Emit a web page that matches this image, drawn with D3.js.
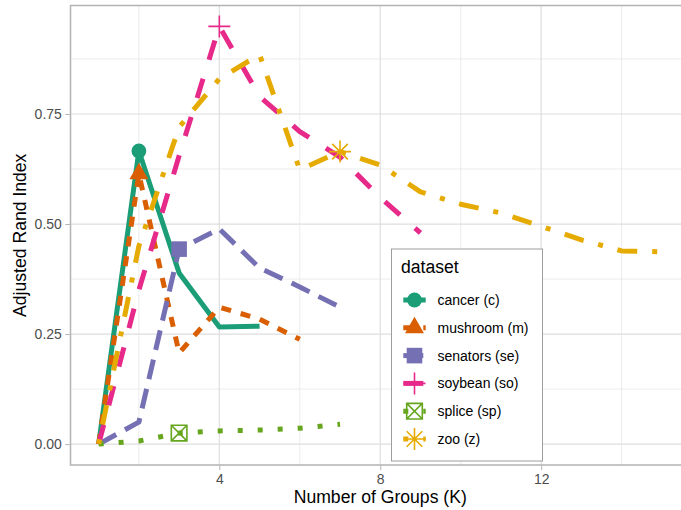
<!DOCTYPE html>
<html><head><meta charset="utf-8">
<script src="https://cdn.jsdelivr.net/npm/d3@7"></script>
<style>
body{margin:0;background:#fff}
text{font-family:"Liberation Sans",Arial,Helvetica,sans-serif}
</style>
</head><body>
<svg id="chart" width="681" height="510"></svg>
<script>
// ---- data ----
const seriesNames = ["cancer (c)", "mushroom (m)", "senators (se)", "soybean (so)", "splice (sp)", "zoo (z)"];
const seriesColors = ["#1B9E77", "#D95F02", "#7570B3", "#E7298A", "#66A61E", "#E6AB02"];
const seriesDash = [null, "10,10", "20,10", "20,20", "5,15", "5,15,20,15"];
const seriesShape = ["circle", "triangle", "square", "plus", "boxtimes", "asterisk"];
const bestK = [2, 2, 3, 4, 3, 7];
// ARI values for K = 1, 2, 3, ...
const cancer   = [0, 0.666, 0.389, 0.266, 0.268];
const mushroom = [0, 0.614, 0.207, 0.311, 0.284, 0.238];
const senators = [0, 0.05, 0.443, 0.489, 0.40, 0.357, 0.311];
const soybean  = [0, 0.35, 0.655, 0.949, 0.79, 0.71, 0.652, 0.56, 0.48];
const splice   = [0, 0.007, 0.025, 0.03, 0.032, 0.036, 0.045];
const zoo      = [0, 0.45, 0.72, 0.83, 0.885, 0.623, 0.6645, 0.634, 0.573, 0.545, 0.525, 0.495, 0.464, 0.439, 0.437];
const seriesValues = [cancer, mushroom, senators, soybean, splice, zoo];
const xTicks = [4, 8, 12];
const xMinor = [2, 6, 10, 14];
const yTicks = [0, 0.25, 0.5, 0.75];
const yTickLabels = ["0.00", "0.25", "0.50", "0.75"];
const yMinor = [0.125, 0.375, 0.625, 0.875];
const xTitle = "Number of Groups (K)";
const yTitle = "Adjusted Rand Index";
const legendTitle = "dataset";

// ---- build table ----
const series = seriesNames.map((name, i) => ({
  name, color: seriesColors[i], dash: seriesDash[i], shape: seriesShape[i], best: bestK[i],
  pts: seriesValues[i].map((v, j) => ({k: j + 1, v}))
}));

const svg = d3.select("#chart");
const P = {left: 70.5, right: 690, top: 5.5, bottom: 465};

const allK = series.flatMap(s => s.pts.map(p => p.k));
const allV = series.flatMap(s => s.pts.map(p => p.v));
const kExt = d3.extent(allK), vExt = d3.extent(allV);
const kPad = (kExt[1] - kExt[0]) * 0.05, vPad = (vExt[1] - vExt[0]) * 0.05;
const x = d3.scaleLinear().domain([kExt[0] - kPad, kExt[1] + kPad]).range([P.left, P.right]);
const y = d3.scaleLinear().domain([vExt[0] - vPad, vExt[1] + vPad]).range([P.bottom, P.top]);

// grid
const grid = svg.append("g");
grid.selectAll(".xm").data(xMinor).join("line")
  .attr("x1", d => x(d)).attr("x2", d => x(d)).attr("y1", P.top).attr("y2", P.bottom)
  .attr("stroke", "#E4E4E4").attr("stroke-width", 0.7);
grid.selectAll(".ym").data(yMinor).join("line")
  .attr("y1", d => y(d)).attr("y2", d => y(d)).attr("x1", P.left).attr("x2", P.right)
  .attr("stroke", "#E4E4E4").attr("stroke-width", 0.7);
grid.selectAll(".xM").data(xTicks).join("line")
  .attr("x1", d => x(d)).attr("x2", d => x(d)).attr("y1", P.top).attr("y2", P.bottom)
  .attr("stroke", "#DEDEDE").attr("stroke-width", 1.2);
grid.selectAll(".yM").data(yTicks).join("line")
  .attr("y1", d => y(d)).attr("y2", d => y(d)).attr("x1", P.left).attr("x2", P.right)
  .attr("stroke", "#DEDEDE").attr("stroke-width", 1.2);

// lines
const line = d3.line().x(d => x(d.k)).y(d => y(d.v));
svg.append("g").selectAll("path").data(series).join("path")
  .attr("d", s => line(s.pts))
  .attr("fill", "none")
  .attr("stroke", s => s.color)
  .attr("stroke-width", 5)
  .attr("stroke-linejoin", "round")
  .attr("stroke-linecap", "butt")
  .attr("stroke-dasharray", s => s.dash);

// markers
function drawMarker(g, shape, color) {
  const R = 7.8;
  if (shape === "circle") {
    g.append("circle").attr("r", 7.4).attr("fill", color);
  } else if (shape === "triangle") {
    g.append("path").attr("d", "M0,-11L9.5,5.5L-9.5,5.5Z").attr("fill", color);
  } else if (shape === "square") {
    g.append("rect").attr("x", -R).attr("y", -R).attr("width", 2 * R).attr("height", 2 * R).attr("fill", color);
  } else if (shape === "plus") {
    const a = 11;
    g.append("path").attr("d", `M${-a},0H${a}M0,${-a}V${a}`).attr("stroke", color).attr("stroke-width", 1.6).attr("fill", "none");
  } else if (shape === "boxtimes") {
    g.append("path").attr("d", `M${-R},${-R}H${R}V${R}H${-R}ZM${-R},${-R}L${R},${R}M${R},${-R}L${-R},${R}`)
      .attr("stroke", color).attr("stroke-width", 1.6).attr("fill", "none");
  } else if (shape === "asterisk") {
    const a = 11;
    g.append("path").attr("d", `M${-a},0H${a}M0,${-a}V${a}M${-R},${-R}L${R},${R}M${R},${-R}L${-R},${R}`)
      .attr("stroke", color).attr("stroke-width", 1.6).attr("fill", "none");
  }
}
const ptsG = svg.append("g");
series.forEach(s => {
  const p = s.pts.find(d => d.k === s.best);
  const g = ptsG.append("g").attr("transform", `translate(${x(p.k)},${y(p.v)})`);
  drawMarker(g, s.shape, s.color);
});

// panel border
svg.append("rect").attr("x", P.left).attr("y", P.top)
  .attr("width", P.right - P.left).attr("height", P.bottom - P.top)
  .attr("fill", "none").attr("stroke", "#B3B3B3").attr("stroke-width", 1.5);

// axes
const yAxis = svg.append("g").attr("transform", `translate(${P.left - 0.75},0)`)
  .call(d3.axisLeft(y).tickValues(yTicks).tickFormat((d, i) => yTickLabels[i]).tickSize(4.4).tickPadding(3.5));
const xAxis = svg.append("g").attr("transform", `translate(0,${P.bottom + 0.75})`)
  .call(d3.axisBottom(x).tickValues(xTicks).tickFormat(d3.format("d")).tickSize(4.4).tickPadding(3.5));
[xAxis, yAxis].forEach(a => {
  a.select(".domain").remove();
  a.selectAll(".tick line").attr("stroke", "#B3B3B3").attr("stroke-width", 1);
  a.selectAll(".tick text").attr("fill", "#4D4D4D").style("font-size", "14px")
    .style("font-family", '"Liberation Sans",Arial,sans-serif');
});

// titles
svg.append("text").attr("x", (P.left + P.right) / 2).attr("y", 503)
  .attr("text-anchor", "middle").style("font-size", "17.6px").attr("fill", "#000").text(xTitle);
svg.append("text").attr("transform", `translate(26,${(P.top + P.bottom) / 2}) rotate(-90)`)
  .attr("text-anchor", "middle").style("font-size", "17.6px").attr("fill", "#000").text(yTitle);

// legend
const L = {x: 391.5, y: 249, w: 151, h: 212};
const lg = svg.append("g");
lg.append("rect").attr("x", L.x).attr("y", L.y).attr("width", L.w).attr("height", L.h)
  .attr("fill", "#fff").attr("stroke", "#9E9E9E").attr("stroke-width", 1);
lg.append("text").attr("x", 401).attr("y", 272.5).style("font-size", "17.6px").attr("fill", "#000").text(legendTitle);
series.forEach((s, i) => {
  const cy = 300 + i * 27.8;
  lg.append("line").attr("x1", 403.3).attr("x2", 425.7).attr("y1", cy).attr("y2", cy)
    .attr("stroke", s.color).attr("stroke-width", 5).attr("stroke-dasharray", s.dash);
  const g = lg.append("g").attr("transform", `translate(414.5,${cy})`);
  drawMarker(g, s.shape, s.color);
  lg.append("text").attr("x", 437.5).attr("y", cy).attr("dy", "0.35em")
    .style("font-size", "14px").attr("fill", "#000").text(s.name);
});
</script>
</body></html>
